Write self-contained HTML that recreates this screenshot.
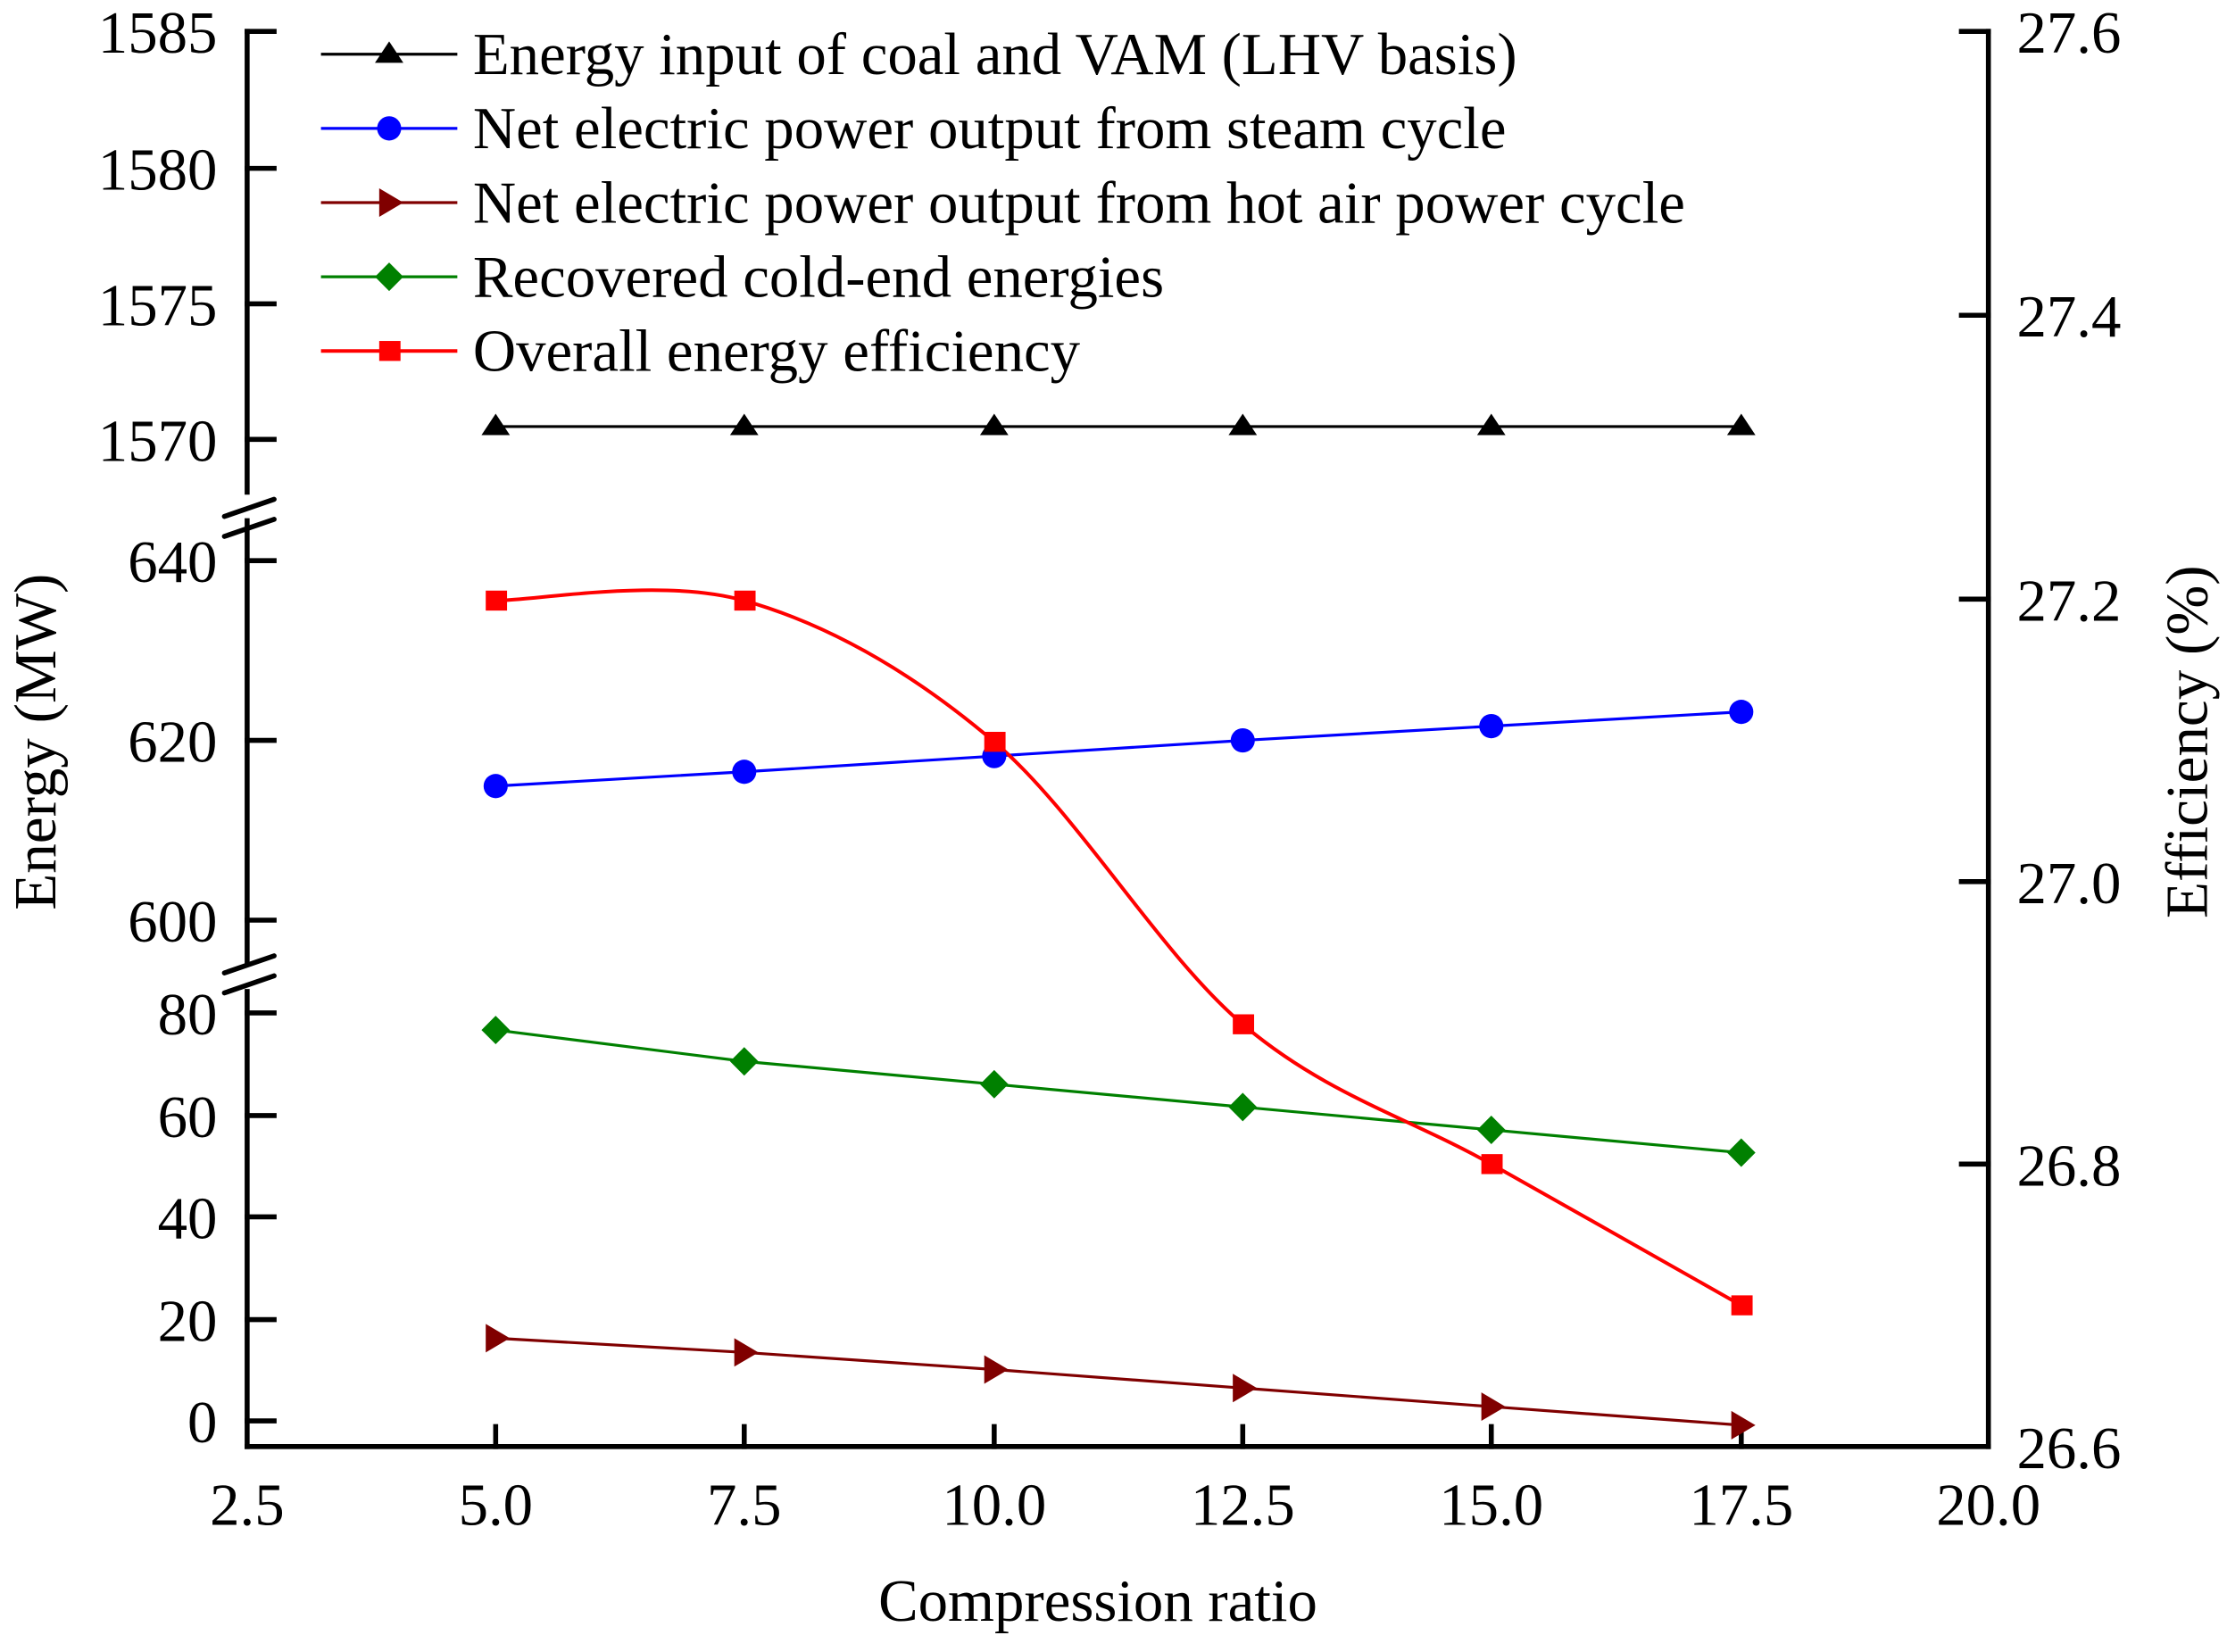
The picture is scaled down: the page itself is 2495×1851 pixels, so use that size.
<!DOCTYPE html>
<html><head><meta charset="utf-8"><style>html,body{margin:0;padding:0;background:#fff}svg{display:block}</style></head>
<body>
<svg width="2495" height="1851" viewBox="0 0 1568 1158" preserveAspectRatio="none" xmlns="http://www.w3.org/2000/svg" font-family="Liberation Serif, serif">
<defs>
<path id="tri" d="M-10,6 L10,6 L0,-9 Z"/>
<path id="rtri" d="M-7,-10 L10,0 L-7,10 Z"/>
<path id="dia" d="M0,-10 L10,0 L0,10 L-10,0 Z"/>
</defs>
<g stroke="#000" stroke-width="3.5" fill="none" stroke-linecap="square">
<line x1="174" y1="22" x2="174" y2="345"/>
<line x1="174" y1="365" x2="174" y2="675"/>
<line x1="174" y1="695" x2="174" y2="1014"/>
<line x1="174" y1="1014" x2="1400" y2="1014"/>
<line x1="1400" y1="22" x2="1400" y2="1014"/>
<line x1="174" y1="22" x2="193" y2="22"/><line x1="174" y1="118" x2="193" y2="118"/>
<line x1="174" y1="213" x2="193" y2="213"/><line x1="174" y1="308" x2="193" y2="308"/>
<line x1="174" y1="393" x2="193" y2="393"/><line x1="174" y1="519" x2="193" y2="519"/>
<line x1="174" y1="645" x2="193" y2="645"/><line x1="174" y1="710" x2="193" y2="710"/>
<line x1="174" y1="782" x2="193" y2="782"/><line x1="174" y1="853" x2="193" y2="853"/>
<line x1="174" y1="925" x2="193" y2="925"/><line x1="174" y1="996" x2="193" y2="996"/>
<line x1="1381" y1="22" x2="1400" y2="22"/><line x1="1381" y1="221" x2="1400" y2="221"/>
<line x1="1381" y1="420" x2="1400" y2="420"/><line x1="1381" y1="618" x2="1400" y2="618"/>
<line x1="1381" y1="816" x2="1400" y2="816"/>
<line x1="349" y1="1000" x2="349" y2="1014"/><line x1="524" y1="1000" x2="524" y2="1014"/>
<line x1="700" y1="1000" x2="700" y2="1014"/><line x1="875" y1="1000" x2="875" y2="1014"/>
<line x1="1050" y1="1000" x2="1050" y2="1014"/><line x1="1226" y1="1000" x2="1226" y2="1014"/>
</g>
<g stroke="#000" stroke-width="3.5" stroke-linecap="round">
<line x1="158" y1="362" x2="193" y2="350"/><line x1="158" y1="376" x2="193" y2="364"/>
<line x1="158" y1="682" x2="193" y2="670"/><line x1="158" y1="696" x2="193" y2="684"/>
</g>
<g font-size="42" fill="#000" text-anchor="end">
<text x="153" y="37">1585</text><text x="153" y="133">1580</text><text x="153" y="228">1575</text><text x="153" y="323">1570</text>
<text x="153" y="408">640</text><text x="153" y="534">620</text><text x="153" y="660">600</text>
<text x="153" y="725">80</text><text x="153" y="797">60</text><text x="153" y="868">40</text><text x="153" y="940">20</text><text x="153" y="1011">0</text>
</g>
<g font-size="42" fill="#000">
<text x="1420" y="37">27.6</text><text x="1420" y="236">27.4</text><text x="1420" y="435">27.2</text>
<text x="1420" y="633">27.0</text><text x="1420" y="831">26.8</text><text x="1420" y="1029">26.6</text>
</g>
<g font-size="42" fill="#000" text-anchor="middle">
<text x="174" y="1069">2.5</text><text x="349" y="1069">5.0</text><text x="524" y="1069">7.5</text>
<text x="700" y="1069">10.0</text><text x="875" y="1069">12.5</text><text x="1050" y="1069">15.0</text>
<text x="1226" y="1069">17.5</text><text x="1400" y="1069">20.0</text>
<text x="773" y="1136">Compression ratio</text>
<text transform="translate(39,520) rotate(-90)">Energy (MW)</text>
<text transform="translate(1554,520) rotate(-90)">Efficiency (%)</text>
</g>
<polyline fill="none" stroke="#000" stroke-width="2" points="349,299 1226,299"/>
<polyline fill="none" stroke="#00f" stroke-width="2" points="349,551 524,541 700,530 875,519 1050,509 1226,499"/>
<polyline fill="none" stroke="#800000" stroke-width="2" points="349,938 524,948 700,960 875,973 1050,986 1226,999"/>
<polyline fill="none" stroke="#008000" stroke-width="2" points="349,722 524,744 700,760 875,776 1050,792 1226,808"/>
<path fill="none" stroke="#f00" stroke-width="2.5" d="M349,421 C378,421 465.5,404.5 524,421 C582.5,437.5 641.5,470.5 700,520 C758.5,569.5 816.7,668.7 875,718 C933.3,767.3 991.5,783.2 1050,816 C1108.5,848.8 1196.7,898.5 1226,915"/>
<g fill="#000"><use href="#tri" x="349" y="299"/><use href="#tri" x="524" y="299"/><use href="#tri" x="700" y="299"/><use href="#tri" x="875" y="299"/><use href="#tri" x="1050" y="299"/><use href="#tri" x="1226" y="299"/></g>
<g fill="#00f"><circle cx="349" cy="551" r="8.5"/><circle cx="524" cy="541" r="8.5"/><circle cx="700" cy="530" r="8.5"/><circle cx="875" cy="519" r="8.5"/><circle cx="1050" cy="509" r="8.5"/><circle cx="1226" cy="499" r="8.5"/></g>
<g fill="#800000"><use href="#rtri" x="349" y="938"/><use href="#rtri" x="524" y="948"/><use href="#rtri" x="700" y="960"/><use href="#rtri" x="875" y="973"/><use href="#rtri" x="1050" y="986"/><use href="#rtri" x="1226" y="999"/></g>
<g fill="#008000"><use href="#dia" x="349" y="722"/><use href="#dia" x="524" y="744"/><use href="#dia" x="700" y="760"/><use href="#dia" x="875" y="776"/><use href="#dia" x="1050" y="792"/><use href="#dia" x="1226" y="808"/></g>
<g fill="#f00"><rect x="342" y="414" width="15" height="14"/><rect x="517" y="414" width="15" height="14"/><rect x="693" y="513" width="15" height="14"/><rect x="868" y="711" width="15" height="14"/><rect x="1043" y="809" width="15" height="14"/><rect x="1219" y="908" width="15" height="14"/></g>
<g stroke-width="2">
<line x1="226" y1="38" x2="322" y2="38" stroke="#000"/>
<line x1="226" y1="90" x2="322" y2="90" stroke="#00f"/>
<line x1="226" y1="142" x2="322" y2="142" stroke="#800000"/>
<line x1="226" y1="194" x2="322" y2="194" stroke="#008000"/>
<line x1="226" y1="246" x2="322" y2="246" stroke="#f00" stroke-width="2.5"/>
</g>
<use href="#tri" x="274" y="38" fill="#000"/>
<circle cx="274" cy="90" r="8.5" fill="#00f"/>
<use href="#rtri" x="274" y="142" fill="#800000"/>
<use href="#dia" x="274" y="194" fill="#008000"/>
<rect x="267" y="239" width="15" height="14" fill="#f00"/>
<g font-size="42" fill="#000">
<text x="333" y="52">Energy input of coal and VAM (LHV basis)</text>
<text x="333" y="104">Net electric power output from steam cycle</text>
<text x="333" y="156">Net electric power output from hot air power cycle</text>
<text x="333" y="208">Recovered cold-end energies</text>
<text x="333" y="260">Overall energy efficiency</text>
</g>
</svg>
</body></html>
